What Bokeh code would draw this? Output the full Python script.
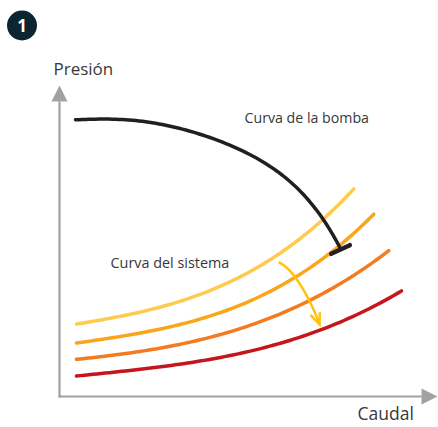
import numpy as np

from bokeh.embed import file_html
from bokeh.resources import INLINE
from bokeh.plotting import figure
from bokeh.models import Arrow, NormalHead
from bokeh.core.properties import value

# Caudal (x) and presion (y), in arbitrary units
bomba_q = [16, 41, 91, 126, 161, 194, 216, 228, 244.3, 261, 271, 280]
bomba_h = [276.5, 278, 273.3, 266.5, 256, 240, 226, 216.5, 201, 182.5, 166, 149]
tope_q = [271.7, 290.3]
tope_h = [142.7, 151.3]

s1_q = [17, 67.7, 117.7, 167.7, 201, 214.3, 247.7, 274.3, 294.3]
s1_h = [72.7, 81, 94.3, 114.3, 131, 138.7, 162.7, 187.7, 207.7]
s2_q = [17, 67.7, 117.7, 167.7, 201, 234.3, 271, 294.3, 314.3]
s2_h = [54, 60, 71, 87.7, 101, 117.7, 142.7, 162.7, 183.3]
s3_q = [17, 67.7, 117.7, 167.7, 221, 252.7, 294.3, 329.3]
s3_h = [37.3, 42.7, 52, 64.3, 82.7, 96, 122.7, 145.3]
s4_q = [17, 67.7, 117.7, 167.7, 224.3, 261, 304.3, 342]
s4_h = [20.7, 25.3, 31.7, 41, 54.3, 66.7, 84.3, 106]

cambio_q = [220, 236, 251, 260]
cambio_h = [134.3, 117.7, 95, 72]
punta_q = [251, 260, 260.3]
punta_h = [81.7, 72, 84.3]

textos = ["Presión", "Caudal", "Curva de la bomba", "Curva del sistema"]

AZUL, GRIS, TXT = "#0c2533", "#a0a1a5", "#38383a"
p = figure(width=438, height=427, x_range=(-59, 379), y_range=(-31, 396),
           toolbar_location=None, output_backend="svg", min_border=0,
           outline_line_color=None)
p.grid.visible = False
p.axis.visible = False


def suave(q, h, grado=3, **kw):
    """Stroke a low-order smooth curve through the read points (drawing step only)."""
    ajuste = np.polynomial.Polynomial.fit(q, h, grado)
    xs = np.linspace(q[0], q[-1], 80)
    p.line(xs, ajuste(xs), line_cap="round", line_join="round", **kw)


cab = dict(line_color=GRIS, line_width=2.2)
p.add_layout(Arrow(end=NormalHead(size=16, fill_color=GRIS, line_color=GRIS, line_width=0),
                   x_start=0, y_start=-1, x_end=0, y_end=311, **cab))
p.add_layout(Arrow(end=NormalHead(size=16, fill_color=GRIS, line_color=GRIS, line_width=0),
                   x_start=-1, y_start=0, x_end=378, y_end=0, **cab))

for q, h, c in [(s1_q, s1_h, "#fecb4e"), (s2_q, s2_h, "#faa61a"),
                (s3_q, s3_h, "#f47b20"), (s4_q, s4_h, "#c4161c")]:
    suave(q, h, line_color=c, line_width=3.5)

suave(bomba_q, bomba_h, grado=5, line_color="#231f20", line_width=3.5)
p.line(tope_q, tope_h, line_color="#231f20", line_width=4.5, line_cap="round")

suave(cambio_q, cambio_h, grado=2, line_color="#ffc20e", line_width=2.5)
p.line(punta_q, punta_h, line_color="#ffc20e", line_width=2.5, line_join="miter")

p.circle(x=[-37.5], y=[371], radius=15, fill_color=AZUL, line_color=None)
p.text(x=[-37.5], y=[371], text=["1"], text_color="white", text_font=value("Open Sans"),
       text_font_size="17px", text_font_style="bold", text_align="center", text_baseline="middle")

p.text(x=[-6], y=[328], text=[textos[0]], text_color=TXT, text_font=value("Open Sans"),
       text_font_size="17px", text_baseline="alphabetic")
p.text(x=[298], y=[-16], text=[textos[1]], text_color=TXT, text_font=value("Open Sans"),
       text_font_size="17.5px", text_baseline="alphabetic")
p.text(x=[185], y=[279], text=[textos[2]], text_color=TXT, text_font=value("Open Sans"),
       text_font_size="14.2px", text_baseline="alphabetic")
p.text(x=[51], y=[134], text=[textos[3]], text_color=TXT, text_font=value("Open Sans"),
       text_font_size="14.4px", text_baseline="alphabetic")

open("out.html", "w").write(file_html(p, INLINE))
